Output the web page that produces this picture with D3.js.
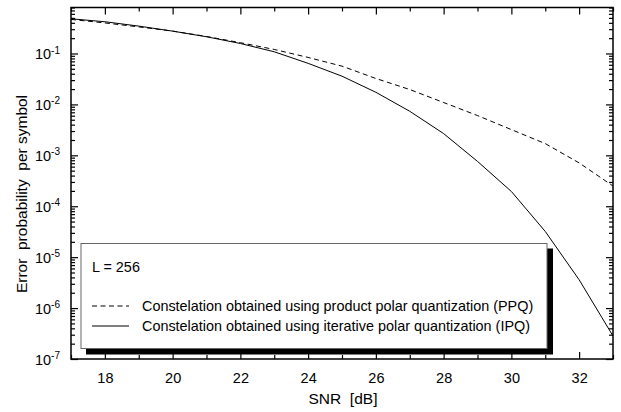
<!DOCTYPE html>
<html>
<head>
<meta charset="utf-8">
<script src="https://cdn.jsdelivr.net/npm/d3@7"></script>
<style>
	body { margin: 0; background: #fff; }
	text { font-family: "Liberation Sans", Arial, sans-serif; fill: #000; }
</style>
</head>
<body>
<div id="chart"></div>
<script>
// SNR [dB] values along x
const snr = [17, 18, 19, 20, 21, 22, 23, 24, 25, 26, 27, 28, 29, 30, 31, 32, 33];
// product polar quantization (dashed)
const ppq = [0.467, 0.398, 0.333, 0.275, 0.216, 0.163, 0.12, 0.0836, 0.0564, 0.0323,
	0.0196, 0.0109, 0.00604, 0.0032, 0.0017, 7.1e-4, 2.5e-4];
// iterative polar quantization (solid)
const ipq = [0.48, 0.42, 0.345, 0.275, 0.213, 0.157, 0.108, 0.064, 0.0358, 0.0173,
	0.00733, 0.00267, 7.6e-4, 1.95e-4, 3.2e-5, 3.6e-6, 2.83e-7];

const xMajor = [18, 20, 22, 24, 26, 28, 30, 32];
const xMinor = [17, 19, 21, 23, 25, 27, 29, 31, 33];
const yDecades = [-7, -6, -5, -4, -3, -2, -1];

const legendLabels = [
	"Constelation obtained using product polar quantization (PPQ)",
	"Constelation obtained using iterative polar quantization (IPQ)"
];

const W = 621, H = 412;
const L = 71, R = 613, T = 7.5, B = 359;

const svg = d3.select("#chart").append("svg")
	.attr("width", W)
	.attr("height", H);

const x = d3.scaleLinear().domain([17, 33]).range([L, R]);
const y = d3.scaleLog().domain([1e-7, 0.8]).range([B, T]);

// minor log ticks 2..9 of every decade, inside domain
let yMinor = [];
for (let e = -7; e <= 0; e++) {
	for (let m = 2; m <= 9; m++) {
		let v = m * Math.pow(10, e);
		if (v < 0.8 + 1e-9) yMinor.push(v);
	}
}
const yMajorVals = yDecades.map(e => Math.pow(10, e));

function styleAxis(g) {
	g.select(".domain").remove();
	g.selectAll(".tick line").attr("stroke", "#000").attr("stroke-width", 1.2);
}

// x axis bottom
svg.append("g")
	.attr("transform", `translate(0,${B})`)
	.call(d3.axisBottom(x).tickValues(xMajor).tickSizeInner(-7).tickSizeOuter(0).tickPadding(14))
	.call(styleAxis)
	.call(g => g.selectAll(".tick text").attr("font-size", 14.5));
svg.append("g")
	.attr("transform", `translate(0,${B})`)
	.call(d3.axisBottom(x).tickValues(xMinor).tickSizeInner(-4).tickSizeOuter(0).tickFormat(""))
	.call(styleAxis);
// x axis top
svg.append("g")
	.attr("transform", `translate(0,${T})`)
	.call(d3.axisTop(x).tickValues(xMajor).tickSizeInner(-7).tickSizeOuter(0).tickFormat(""))
	.call(styleAxis);
svg.append("g")
	.attr("transform", `translate(0,${T})`)
	.call(d3.axisTop(x).tickValues(xMinor).tickSizeInner(-4).tickSizeOuter(0).tickFormat(""))
	.call(styleAxis);

// y axis left
svg.append("g")
	.attr("transform", `translate(${L},0)`)
	.call(d3.axisLeft(y).tickValues(yMajorVals).tickSizeInner(-7).tickSizeOuter(0).tickFormat(""))
	.call(styleAxis)
	.call(g => g.selectAll(".tick").each(function(d) {
		let t = d3.select(this).select("text")
			.attr("x", -11).attr("dy", "0.35em")
			.attr("font-size", 14.5).attr("text-anchor", "end");
		t.append("tspan").text("10");
		t.append("tspan").attr("dy", "-0.55em").attr("font-size", 10)
			.text("-" + Math.round(-Math.log10(d)));
	}));
svg.append("g")
	.attr("transform", `translate(${L},0)`)
	.call(d3.axisLeft(y).tickValues(yMinor).tickSizeInner(-4).tickSizeOuter(0).tickFormat(""))
	.call(styleAxis);
// y axis right
svg.append("g")
	.attr("transform", `translate(${R},0)`)
	.call(d3.axisRight(y).tickValues(yMajorVals).tickSizeInner(-7).tickSizeOuter(0).tickFormat(""))
	.call(styleAxis);
svg.append("g")
	.attr("transform", `translate(${R},0)`)
	.call(d3.axisRight(y).tickValues(yMinor).tickSizeInner(-4).tickSizeOuter(0).tickFormat(""))
	.call(styleAxis);

// frame
svg.append("rect")
	.attr("x", L).attr("y", T)
	.attr("width", R - L).attr("height", B - T)
	.attr("fill", "none").attr("stroke", "#000").attr("stroke-width", 1.5);

// curves
const line = d3.line()
	.x(d => x(d[0]))
	.y(d => y(d[1]));

svg.append("path")
	.datum(snr.map((s, i) => [s, ppq[i]]))
	.attr("d", line)
	.attr("fill", "none").attr("stroke", "#000").attr("stroke-width", 1)
	.attr("stroke-dasharray", "5,3.5");
svg.append("path")
	.datum(snr.map((s, i) => [s, ipq[i]]))
	.attr("d", line)
	.attr("fill", "none").attr("stroke", "#000").attr("stroke-width", 1);

// legend box with shadow
const lg = svg.append("g");
lg.append("rect")
	.attr("x", 86).attr("y", 248.5)
	.attr("width", 467).attr("height", 106)
	.attr("fill", "#000");
lg.append("rect")
	.attr("x", 81).attr("y", 243.5)
	.attr("width", 466).attr("height", 105)
	.attr("fill", "#fff").attr("stroke", "#666").attr("stroke-width", 1);
lg.append("text")
	.attr("x", 92).attr("y", 272)
	.attr("font-size", 14.4)
	.text("L = 256");
legendLabels.map((item, n) => {
	let yy = 306 + n * 20;
	lg.append("line")
		.attr("x1", 92).attr("x2", 129)
		.attr("y1", yy).attr("y2", yy)
		.attr("stroke", "#000").attr("stroke-width", 1)
		.attr("stroke-dasharray", n == 0 ? "5,3.5" : null);
	lg.append("text")
		.attr("x", 142).attr("y", yy + 5)
		.attr("font-size", 14.4)
		.text(item);
});

// axis titles
svg.append("text")
	.attr("x", 343).attr("y", 404)
	.attr("text-anchor", "middle")
	.attr("font-size", 15.5)
	.style("white-space", "pre")
	.text("SNR  [dB]");
svg.append("text")
	.attr("transform", "translate(27,194) rotate(-90)")
	.attr("text-anchor", "middle")
	.attr("font-size", 15.5)
	.style("white-space", "pre")
	.text("Error  probability  per symbol");
</script>
</body>
</html>
